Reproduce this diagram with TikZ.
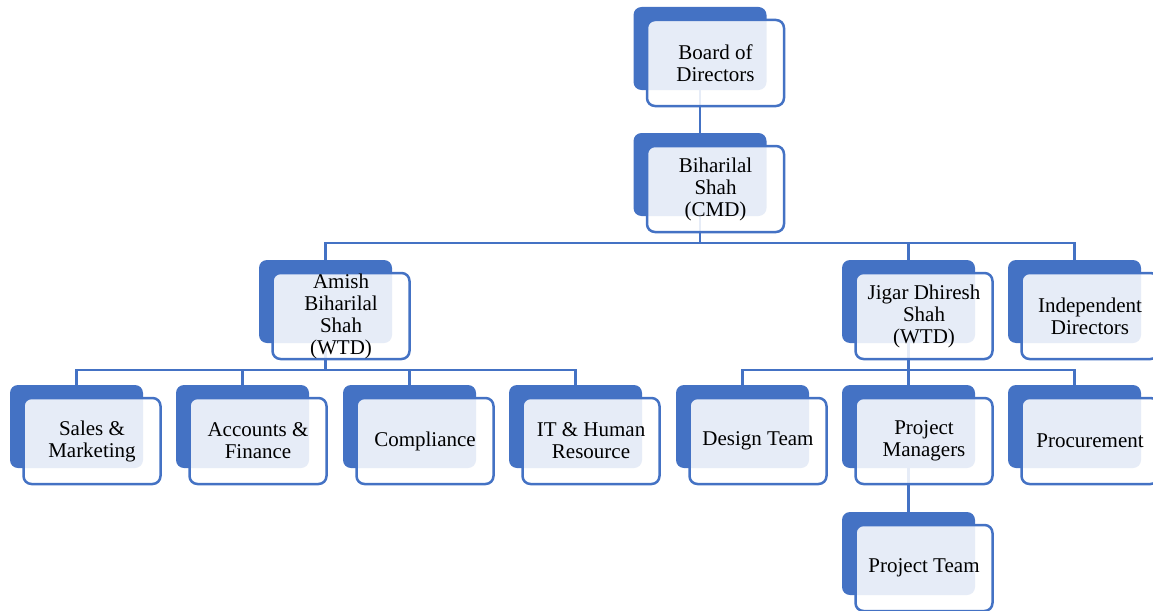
\documentclass[tikz,border=0pt]{standalone}
\usepackage{fontspec}
\setmainfont{Liberation Serif}
\newfontfamily\orgfont{Liberation Serif}
\usetikzlibrary{backgrounds}
\definecolor{orgblue}{HTML}{4472C4}
\tikzset{
	backbox/.style={fill=orgblue,rounded corners=8pt,minimum width=133pt,minimum height=83pt,inner sep=0pt},
	frontbox/.style={draw=orgblue,line width=2.5pt,fill=white,fill opacity=0.87,text opacity=1,rounded corners=8pt,minimum width=137pt,minimum height=86pt,inner sep=0pt,align=center,font=\orgfont\fontsize{21}{22}\selectfont},
	link/.style={draw=orgblue,line width=2.5pt}
}
\newcommand{\orgunit}[4]{%
	\node[backbox] (#1) at (#2,#3) {};
	\node[frontbox] (#1f) at ([shift={(15.5,14.5)}]#1.center) {#4};
}
\begin{document}
\begin{tikzpicture}[x=1pt,y=-1pt]
	\useasboundingbox (0,0) rectangle (1153,610);
	\orgunit{board}{700}{48.5}{Board of\\Directors}
	\orgunit{cmd}{700}{174.5}{Biharilal\\Shah\\(CMD)}
	\orgunit{amish}{325.5}{301.5}{Amish\\Biharilal\\Shah\\(WTD)}
	\orgunit{jigar}{908.5}{301.5}{Jigar Dhiresh\\Shah\\(WTD)}
	\orgunit{indep}{1074.5}{301.5}{Independent\\Directors}
	\orgunit{sales}{76.5}{426.5}{Sales \&\\Marketing}
	\orgunit{accounts}{242.5}{426.5}{Accounts \&\\Finance}
	\orgunit{compliance}{409.5}{426.5}{Compliance}
	\orgunit{ithr}{575.5}{426.5}{IT \& Human\\Resource}
	\orgunit{design}{742.5}{426.5}{Design Team}
	\orgunit{pm}{908.5}{426.5}{Project\\Managers}
	\orgunit{procure}{1074.5}{426.5}{Procurement}
	\orgunit{pteam}{908.5}{553.5}{Project Team}
	% connectors
	\begin{scope}[on background layer]
	\draw[link] (board) -- (cmd);
	\foreach \child in {amish,jigar,indep}
		\draw[link] (cmd.south) -- ++(0,27) -| (\child.north);
	\foreach \child in {sales,accounts,compliance,ithr}
		\draw[link] (amish.south) -- ++(0,27) -| (\child.north);
	\foreach \child in {design,pm,procure}
		\draw[link] (jigar.south) -- ++(0,27) -| (\child.north);
	\draw[link] (pm) -- (pteam);
	\end{scope}
\end{tikzpicture}
\end{document}
